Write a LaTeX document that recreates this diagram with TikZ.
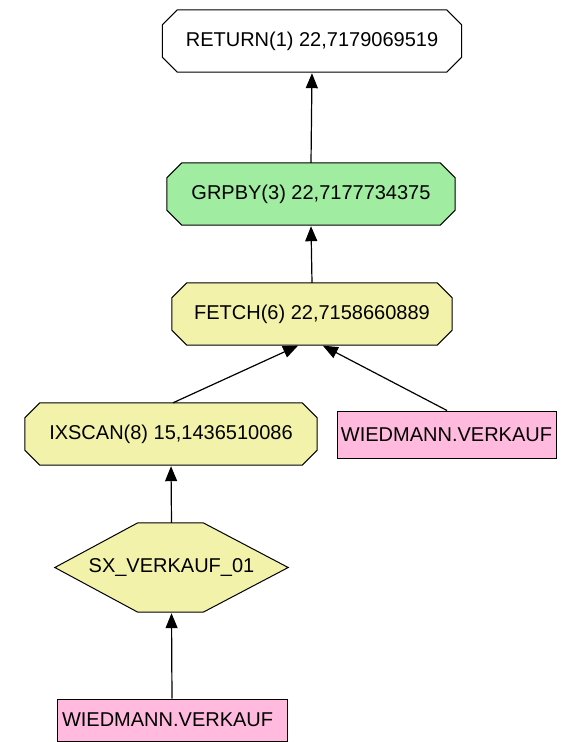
\documentclass[tikz,border=0pt]{standalone}
\usepackage{fontspec}
\setmainfont{Liberation Sans}
\usetikzlibrary{arrows.meta,calc,backgrounds}
\definecolor{opyellow}{RGB}{242,242,170}
\definecolor{opgreen}{RGB}{160,236,160}
\definecolor{oppink}{RGB}{255,186,222}
\tikzset{
  every node/.style={font=\fontsize{20}{24}\selectfont, inner sep=0pt},
  opbox/.style={rectangle, minimum height=62},
  outline/.style={draw=black, line width=1pt},
  tablebox/.style={rectangle, outline, fill=oppink},
  flow/.style={line width=1.2pt, -{Triangle[width=12pt,length=15pt]}, shorten >=1pt}
}
% octagonal outline with 15pt corner cuts around a named node
\newcommand\octaframe[2]{%
  \draw[outline, fill=#2]
    ($(#1.north west)+(15,0)$) -- ($(#1.north east)+(-15,0)$)
    -- ($(#1.north east)+(0,15)$) -- ($(#1.south east)+(0,-15)$)
    -- ($(#1.south east)+(-15,0)$) -- ($(#1.south west)+(15,0)$)
    -- ($(#1.south west)+(0,-15)$) -- ($(#1.north west)+(0,15)$) -- cycle;}
\begin{document}
\begin{tikzpicture}[x=1pt,y=-1pt]
\useasboundingbox (0,0) rectangle (561,742);

% operator nodes
\node[opbox, minimum width=299] (ret) at (312,41) {RETURN(1) 22,7179069519};
\node[opbox, minimum width=288] (grp) at (311,194) {GRPBY(3) 22,7177734375};
\node[opbox, minimum width=280] (fetch) at (312,314) {FETCH(6) 22,7158660889};
\node[opbox, minimum width=292] (ix) at (171,434) {IXSCAN(8) 15,1436510086};

% table nodes
\node[tablebox, minimum width=219, minimum height=47] (wr) at (446.5,434.5) {WIEDMANN.VERKAUF};
\node[tablebox, text width=220, inner xsep=5pt, align=left, minimum height=42] (wb) at (172,720) {WIEDMANN.VERKAUF};

% index node: hexagon around an invisible box
\node[minimum width=233, minimum height=89] (sx) at (171.5,567.5) {SX\_VERKAUF\_01};

\begin{scope}[on background layer]
  \octaframe{ret}{white}
  \octaframe{grp}{opgreen}
  \octaframe{fetch}{opyellow}
  \octaframe{ix}{opyellow}
  \draw[outline, fill=opyellow]
    (sx.west) -- ($(sx.north west)+(83,0)$) -- ($(sx.north east)+(-85,0)$)
    -- (sx.east) -- ($(sx.south east)+(-85,0)$) -- ($(sx.south west)+(83,0)$) -- cycle;
\end{scope}

% connectors
\draw[flow] (grp.north) -- (ret.south);
\draw[flow] (fetch.north) -- (grp.south);
\draw[flow] ($(ix.north)+(2,0)$) -- ($(fetch.south)+(-13,0)$);
\draw[flow] ($(wr.north)+(0.5,0)$) -- ($(fetch.south)+(10,0)$);
\draw[flow] (sx.north) -- (ix.south);
\draw[flow] (wb.north) -- (sx.south);
\end{tikzpicture}
\end{document}
